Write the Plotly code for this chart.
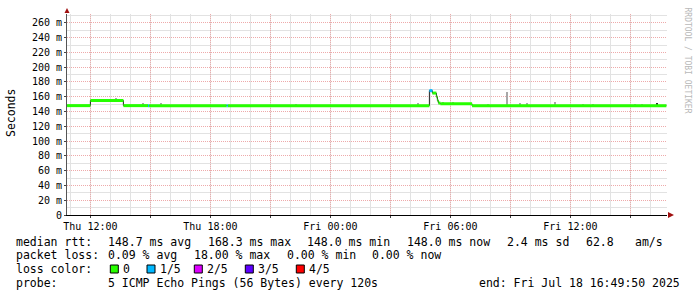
import plotly.graph_objects as go

# ---------------- data ----------------
# median RTT (ms) as step points; loss = lost pings out of 5
med_times = ["2025-07-17 10:50", "2025-07-17 12:00", "2025-07-17 13:39",
             "2025-07-17 14:53", "2025-07-17 14:56", "2025-07-17 18:49",
             "2025-07-17 18:52", "2025-07-18 04:57", "2025-07-18 05:06",
             "2025-07-18 05:18", "2025-07-18 05:21", "2025-07-18 05:24",
             "2025-07-18 05:30", "2025-07-18 07:05", "2025-07-18 16:48"]
med_ms = [148.0, 155.0, 148.0, 148.0, 148.0, 148.0, 148.0, 168.3, 165.0,
          160.0, 155.0, 151.5, 150.5, 148.0, 148.0]
med_loss = [0, 0, 0, 1, 0, 1, 0, 1, 0, 0, 0, 0, 0, 0, 0]

# smoke (spread of individual pings)
smoke_times = ["2025-07-17 13:16", "2025-07-17 14:39", "2025-07-17 15:33",
               "2025-07-17 22:17", "2025-07-18 04:22", "2025-07-18 05:39",
               "2025-07-18 06:09", "2025-07-18 07:53", "2025-07-18 08:49",
               "2025-07-18 09:30", "2025-07-18 09:50", "2025-07-18 11:13",
               "2025-07-18 12:39", "2025-07-18 13:09", "2025-07-18 15:15",
               "2025-07-18 15:35", "2025-07-18 16:20"]
smoke_lo = [156.0, 149.0, 149.0, 149.0, 149.0, 151.5, 151.5, 149.0, 149.0,
            149.0, 149.0, 149.0, 149.0, 149.0, 149.0, 149.0, 148.0]
smoke_hi = [159.0, 150.5, 151.0, 150.0, 151.0, 153.5, 152.5, 150.0, 166.0,
            150.5, 151.0, 153.0, 150.0, 150.0, 150.0, 150.0, 152.0]
smoke_col = ["#a8a8a8"] * 16 + ["#303030"]

loss_levels = [0, 1, 2, 3, 4]
loss_labels = ["0", "1/5", "2/5", "3/5", "4/5"]
loss_colors = ["#26ff00", "#00b8ff", "#dd00ff", "#5e00ff", "#ff0000"]

y_ticks = list(range(0, 261, 20))
y_ticktext = ["0" if v == 0 else f"{v} m" for v in y_ticks]
y_minor = list(range(10, 271, 20))

x_ticks = ["2025-07-17 12:00", "2025-07-17 15:00", "2025-07-17 18:00",
           "2025-07-17 21:00", "2025-07-18 00:00", "2025-07-18 03:00",
           "2025-07-18 06:00", "2025-07-18 09:00", "2025-07-18 12:00",
           "2025-07-18 15:00"]
x_ticktext = ["Thu 12:00", "", "Thu 18:00", "", "Fri 00:00", "",
              "Fri 06:00", "", "Fri 12:00", ""]
x_range = ["2025-07-17 10:49:50", "2025-07-18 16:49:50"]
y_range = [0, 272]

legend_rows = [
    [("median rtt:", 16), ("148.7 ms avg", 107.7), ("168.3 ms max", 207.7),
     ("148.0 ms min", 306.7), ("148.0 ms now", 407.3), ("2.4 ms sd", 507.3),
     ("62.8", 586), ("am/s", 635)],
    [("packet loss:", 16), ("0.09 % avg", 107.7), ("18.00 % max", 194.3),
     ("0.00 % min", 286.7), ("0.00 % now", 372.3)],
    [("loss color:", 16)],
    [("probe:", 16), ("5 ICMP Echo Pings (56 Bytes) every 120s", 107.7),
     ("end: Fri Jul 18 16:49:50 2025", 479)],
]
legend_row_y = [241.7, 254.8, 269.0, 282.7]
loss_text_x = [123.3, 160, 207.3, 258.3, 309.3]

# ---------------- figure ----------------
W, H = 697, 297
L, R, T, B = 67, 30, 14, 82
PW, PH = W - L - R, H - T - B


def px(x):
    return (x - L) / PW


def py(y):
    return (H - B - y) / PH


MONO = "DejaVu Sans Mono"
fig = go.Figure()

fig.add_trace(go.Bar(x=smoke_times, y=[h - l for h, l in zip(smoke_hi, smoke_lo)],
                     base=smoke_lo, width=180000, marker_color=smoke_col,
                     marker_line_width=0, hoverinfo="skip"))

fig.add_trace(go.Scatter(x=med_times, y=med_ms, mode="lines",
                         line=dict(color="#202020", width=1, shape="hv"),
                         hoverinfo="skip"))

for lvl, col in zip(loss_levels, loss_colors):
    xs, ys = [], []
    for i in range(len(med_times) - 1):
        if med_loss[i] == lvl:
            xs += [med_times[i], med_times[i + 1], None]
            ys += [med_ms[i], med_ms[i], None]
    if xs:
        fig.add_trace(go.Scatter(x=xs, y=ys, mode="lines",
                                 line=dict(color=col, width=3),
                                 hoverinfo="skip"))

MAJ = "#eeaaaa"
MIN = "#e2e2e2"
DASH = "1px,1px"

fig.update_layout(
    width=W, height=H, margin=dict(l=L, r=R, t=T, b=B, pad=0),
    plot_bgcolor="white", paper_bgcolor="white", showlegend=False,
    bargap=0,
    xaxis=dict(type="date", range=x_range, tickmode="array",
               tickvals=x_ticks, ticktext=x_ticktext,
               showgrid=True, gridcolor=MAJ, griddash=DASH, gridwidth=1,
               minor=dict(tickmode="linear", tick0="2025-07-17 11:00",
                          dtick=3600000, showgrid=True, ticks="",
                          gridcolor=MIN, griddash="solid", gridwidth=1),
               showline=True, linecolor="#000000", linewidth=1,
               ticks="outside", ticklen=2, tickcolor="#444",
               tickfont=dict(family=MONO, size=10, color="#000"),
               zeroline=False, fixedrange=True),
    yaxis=dict(range=y_range, tickmode="array", tickvals=y_ticks,
               ticktext=y_ticktext,
               showgrid=True, gridcolor=MAJ, griddash=DASH, gridwidth=1,
               minor=dict(tickmode="array", tickvals=y_minor, showgrid=True,
                          gridcolor=MIN, griddash="solid", gridwidth=1),
               showline=True, linecolor="#555555", linewidth=1,
               ticks="outside", ticklen=2, tickcolor="#444",
               tickfont=dict(family=MONO, size=10, color="#000"),
               zeroline=False, fixedrange=True),
)

ann = []
for row, yy in zip(legend_rows, legend_row_y):
    for txt, xx in row:
        ann.append(dict(text=txt, x=px(xx), y=py(yy), xref="paper", yref="paper",
                        xanchor="left", yanchor="middle", showarrow=False,
                        borderpad=0, borderwidth=0,
                        font=dict(family=MONO, size=11.5, color="#000")))

shapes = []
for lbl, col, tx in zip(loss_labels, loss_colors, loss_text_x):
    ann.append(dict(text=lbl, x=px(tx), y=py(legend_row_y[2]), xref="paper",
                    yref="paper", xanchor="left", yanchor="middle",
                    showarrow=False, borderpad=0, borderwidth=0,
                    font=dict(family=MONO, size=11.5, color="#000")))
    shapes.append(dict(type="rect", xref="paper", yref="paper",
                       x0=px(tx - 13), x1=px(tx - 5),
                       y0=py(legend_row_y[2] + 4), y1=py(legend_row_y[2] - 4),
                       fillcolor=col, line=dict(color="#000", width=1)))

ann.append(dict(text="Seconds", x=px(11), y=py(113), xref="paper", yref="paper",
                xanchor="center", yanchor="middle", textangle=-90, showarrow=False,
                font=dict(family=MONO, size=11.5, color="#000")))
ann.append(dict(text="RRDTOOL / TOBI OETIKER", x=px(686.5), y=py(60), xref="paper",
                yref="paper", xanchor="center", yanchor="middle", textangle=90,
                showarrow=False, font=dict(family=MONO, size=8, color="#b8b8b8")))

# axis arrows
shapes.append(dict(type="path", xref="paper", yref="paper",
                   path=f"M {px(64.5)} {py(13)} L {px(69.5)} {py(13)} L {px(67)} {py(8)} Z",
                   fillcolor="#a01010", line=dict(color="#a01010", width=0)))
shapes.append(dict(type="path", xref="paper", yref="paper",
                   path=f"M {px(668)} {py(212)} L {px(668)} {py(218)} L {px(674)} {py(215)} Z",
                   fillcolor="#a01010", line=dict(color="#a01010", width=0)))

fig.update_layout(annotations=ann, shapes=shapes)

fig.write_html("out.html")
